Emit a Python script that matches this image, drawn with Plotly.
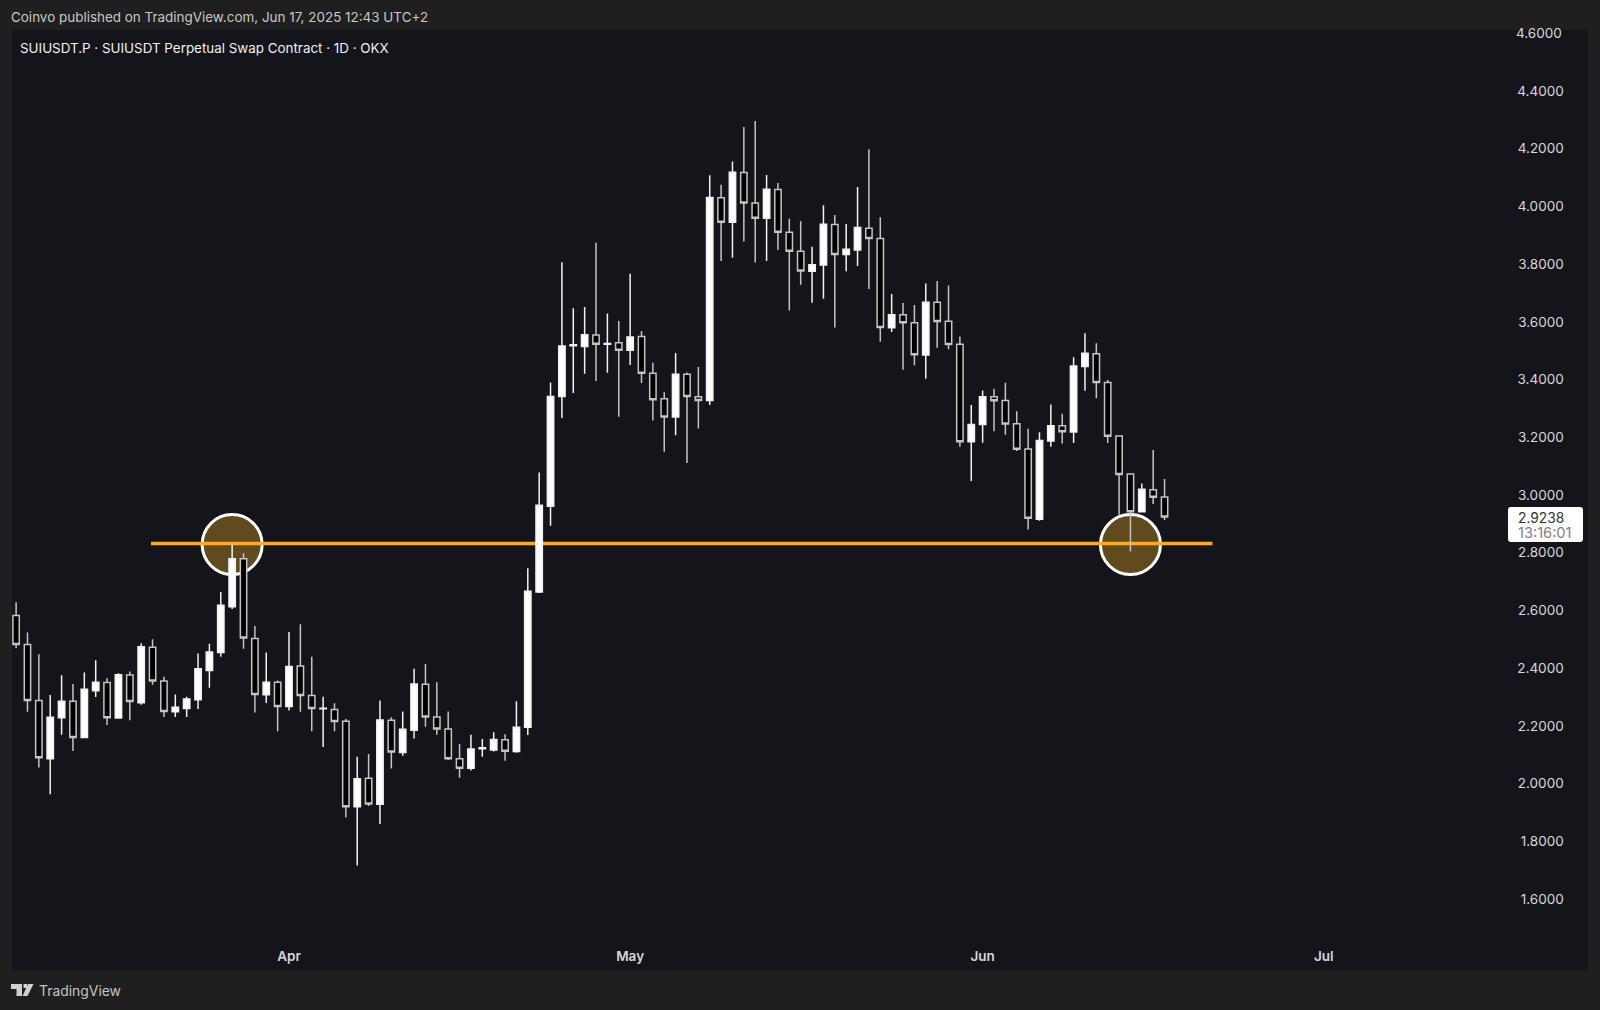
import pandas as pd
import plotly.graph_objects as go

START_DATE = "2025-03-08"
opens = [2.582,2.482,2.288,2.086,2.228,2.285,2.160,2.322,2.350,2.227,2.376,2.280,2.472,2.355,2.249,2.260,2.290,2.392,2.454,2.613,
 2.779,2.503,2.308,2.351,2.267,2.407,2.305,2.259,2.257,2.216,1.920,2.018,1.928,2.219,2.108,2.185,2.344,2.231,2.189,2.086,
 2.053,2.121,2.116,2.152,2.111,2.195,2.664,2.961,3.341,3.517,3.514,3.554,3.522,3.527,3.501,3.549,3.422,3.333,3.270,3.418,
 3.340,3.327,4.030,3.945,4.117,4.012,3.959,4.058,3.910,3.844,3.775,3.797,3.937,3.833,3.849,3.924,3.889,3.579,3.624,3.597,
 3.485,3.668,3.602,3.522,3.184,3.244,3.340,3.327,3.247,3.159,2.916,3.187,3.240,3.218,3.445,3.489,3.390,3.204,3.073,2.942,3.018,2.993]
highs = [2.628,2.523,2.448,2.307,2.375,2.345,2.385,2.427,2.365,2.382,2.388,2.486,2.500,2.370,2.309,2.301,2.451,2.484,2.664,2.830,
 2.798,2.546,2.454,2.357,2.525,2.552,2.439,2.301,2.278,2.224,2.093,2.102,2.288,2.230,2.250,2.398,2.414,2.351,2.250,2.137,
 2.169,2.154,2.178,2.171,2.285,2.746,3.078,3.390,3.806,3.647,3.651,3.874,3.629,3.603,3.766,3.568,3.458,3.356,3.492,3.424,
 3.443,4.108,4.075,4.155,4.275,4.296,4.109,4.081,3.957,3.948,3.860,4.004,3.970,3.939,4.067,4.198,3.962,3.696,3.665,3.658,
 3.733,3.741,3.726,3.549,3.312,3.362,3.368,3.389,3.290,3.229,3.217,3.313,3.281,3.477,3.560,3.526,3.398,3.205,3.075,3.040,3.156,3.055]
lows = [2.469,2.249,2.056,1.963,2.169,2.113,2.157,2.300,2.203,2.227,2.219,2.273,2.342,2.231,2.231,2.231,2.258,2.332,2.439,2.605,
 2.467,2.246,2.279,2.181,2.253,2.249,2.181,2.127,2.181,1.882,1.716,1.922,1.860,2.052,2.096,2.156,2.197,2.169,2.082,2.020,
 2.045,2.093,2.111,2.079,2.107,2.168,2.660,2.893,3.267,3.353,3.420,3.395,3.423,3.271,3.450,3.388,3.258,3.150,3.207,3.111,
 3.230,3.312,3.811,3.822,3.878,3.805,3.811,3.849,3.639,3.728,3.666,3.680,3.580,3.775,3.793,3.714,3.531,3.565,3.434,3.449,
 3.403,3.510,3.505,3.167,3.048,3.181,3.221,3.209,3.152,2.880,2.911,3.167,3.178,3.180,3.361,3.335,3.180,2.931,2.804,2.939,2.969,2.913]
closes = [2.482,2.288,2.089,2.230,2.285,2.160,2.327,2.351,2.228,2.377,2.284,2.474,2.355,2.250,2.264,2.293,2.398,2.456,2.618,2.779,
 2.504,2.309,2.351,2.267,2.406,2.305,2.260,2.261,2.215,1.920,2.017,1.929,2.220,2.109,2.188,2.345,2.231,2.189,2.086,2.053,
 2.120,2.124,2.153,2.112,2.195,2.666,2.964,3.341,3.516,3.520,3.555,3.522,3.525,3.501,3.547,3.422,3.330,3.270,3.418,3.341,
 3.327,4.031,3.945,4.118,4.012,3.959,4.059,3.910,3.844,3.776,3.798,3.938,3.833,3.851,3.927,3.889,3.580,3.624,3.597,3.486,
 3.668,3.601,3.521,3.184,3.244,3.340,3.326,3.246,3.158,2.919,3.189,3.240,3.219,3.447,3.491,3.390,3.203,3.071,2.942,3.020,2.992,2.924]

price_ticks = [1.6,1.8,2.0,2.2,2.4,2.6,2.8,3.0,3.2,3.4,3.6,3.8,4.0,4.2,4.4]
top_tick = 4.6
month_ticks = ["2025-04-01","2025-05-01","2025-06-01","2025-07-01"]
month_labels = ["Apr","May","Jun","Jul"]

level_price = 2.832
level_dates = ["2025-03-19 20:40","2025-06-21 05:00"]
touch_dates = ["2025-03-27","2025-06-14"]
touch_prices = [2.828,2.828]

FRAME="#1f1f1f"; PANE="#14151a"; FONT="Inter"
W,H=1600,1010; L,R,T,B=12,1588,30,970
def px(x): return (x-L)/(R-L)
def py(y): return (B-y)/(B-T)
dates = pd.date_range(START_DATE, periods=len(opens), freq="D")

fig = go.Figure(go.Candlestick(
    x=dates, open=opens, high=highs, low=lows, close=closes, whiskerwidth=0,
    increasing=dict(line=dict(color="#f2f2f2",width=1.5),fillcolor="#ffffff"),
    decreasing=dict(line=dict(color="#c4c4c4",width=1.5),fillcolor="#000000"),
    hoverinfo="skip", showlegend=False))

shapes=[]
for d,p in zip(touch_dates,touch_prices):
    shapes.append(dict(type="circle",layer="below",xref="x",yref="y",xsizemode="pixel",ysizemode="pixel",
        xanchor=d,yanchor=p,x0=-30,x1=30,y0=-30,y1=30,fillcolor="#614a1e",line=dict(color="#ffffff",width=3)))
shapes.append(dict(type="line",layer="below",xref="x",yref="y",x0=level_dates[0],x1=level_dates[1],
    y0=level_price,y1=level_price,line=dict(color="#fbab1f",width=3.5)))
def poly(pts):
    return "M"+" L".join(f"{px(a):.5f},{py(b):.5f}" for a,b in pts)+" Z"
logo=[[(11,984),(22,984),(22,996),(16.5,996),(16.5,989),(11,989)],
      [(27.5,996),(22.5,996),(28,984),(33.5,984)],
      [(23.5,984),(27,984),(27,988),(23.5,988)]]
for p in logo:
    shapes.append(dict(type="path",xref="paper",yref="paper",path=poly(p),fillcolor="#d0d0d0",line=dict(width=0)))
# rounded white last-price tag
x0,x1,y0,y1,r=1508,1583,507,542,3
tag=(f"M{px(x0+r):.5f},{py(y0):.5f} L{px(x1-r):.5f},{py(y0):.5f} Q{px(x1):.5f},{py(y0):.5f} {px(x1):.5f},{py(y0+r):.5f} "
     f"L{px(x1):.5f},{py(y1-r):.5f} Q{px(x1):.5f},{py(y1):.5f} {px(x1-r):.5f},{py(y1):.5f} "
     f"L{px(x0+r):.5f},{py(y1):.5f} Q{px(x0):.5f},{py(y1):.5f} {px(x0):.5f},{py(y1-r):.5f} "
     f"L{px(x0):.5f},{py(y0+r):.5f} Q{px(x0):.5f},{py(y0):.5f} {px(x0+r):.5f},{py(y0):.5f} Z")
shapes.append(dict(type="path",xref="paper",yref="paper",path=tag,fillcolor="#ffffff",line=dict(width=0)))

def note(x,y,text,size,color,**kw):
    return dict(xref="paper",yref="paper",x=px(x),y=py(y),text=text,showarrow=False,xanchor="left",yanchor="middle",
                font=dict(family=FONT,size=size,color=color),**kw)
annotations=[
    note(9,17,"Coinvo published on TradingView.com, Jun 17, 2025 12:43 UTC+2",13.45,"#c8c8c8"),
    note(18,48,"SUIUSDT.P · SUIUSDT Perpetual Swap Contract · 1D · OKX",13.4,"#f0f0f0"),
    note(37,991,"TradingView",13.9,"#c4c4c4"),
    note(1516,517.5,"2.9238",13.8,"#333333"),
    note(1516,533,"13:16:01",14.6,"#808080"),
    dict(xref="paper",yref="y",x=px(1564),y=top_tick,xanchor="right",yanchor="middle",showarrow=False,
         text=f"{top_tick:.4f}",font=dict(family=FONT,size=13.5,color="#d8d8d8")),
]

fig.update_layout(width=W,height=H,autosize=False,paper_bgcolor=FRAME,plot_bgcolor=PANE,boxgap=0.2,
    margin=dict(l=L,r=W-R,t=T,b=H-B),showlegend=False,shapes=shapes,annotations=annotations,
    xaxis=dict(type="date",range=["2025-03-07 15:20","2025-07-24 05:44"],rangeslider=dict(visible=False),
        tickmode="array",tickvals=month_ticks,ticktext=month_labels,ticklabelposition="inside",
        ticks="inside",ticklen=6,tickcolor="rgba(0,0,0,0)",showgrid=False,zeroline=False,showline=False,
        tickfont=dict(family=FONT,size=13.5,color="#d8d8d8",weight=600)),
    yaxis=dict(side="right",range=[1.354,4.611],tickmode="array",tickvals=price_ticks,tickformat=".4f",
        ticklabelposition="inside",ticks="inside",ticklen=24,tickcolor="rgba(0,0,0,0)",
        showgrid=False,zeroline=False,showline=False,
        tickfont=dict(family=FONT,size=13.5,color="#d8d8d8")))
fig.write_html("out.html",config=dict(displayModeBar=False),
    post_script="document.documentElement.style.background='#1f1f1f';document.body.style.margin='0';document.body.style.overflow='hidden';")
